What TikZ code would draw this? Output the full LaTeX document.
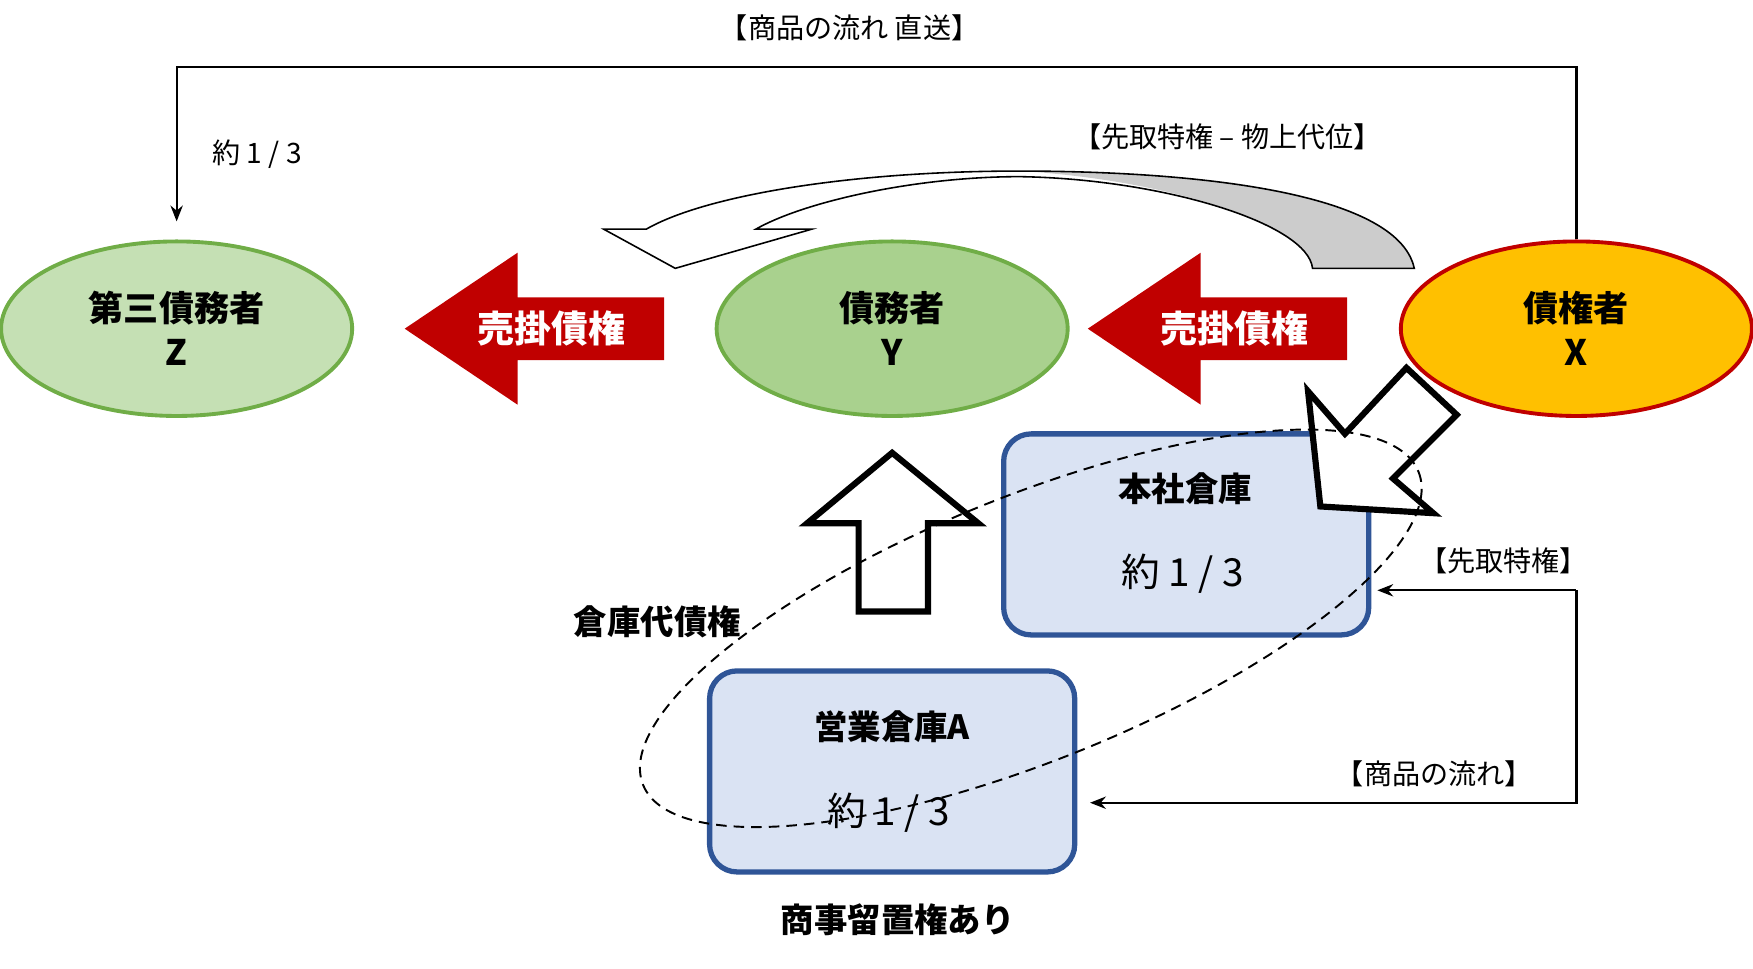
\documentclass[tikz,border=0pt]{standalone}
\usepackage{fontspec}
\setmainfont{Noto Sans CJK JP}
\usetikzlibrary{shapes.geometric,arrows.meta,positioning}
\definecolor{zfill}{HTML}{C5E0B4}
\definecolor{yfill}{HTML}{A9D18E}
\definecolor{pgreen}{HTML}{70AD47}
\definecolor{xfill}{HTML}{FFC000}
\definecolor{xred}{HTML}{C00000}
\definecolor{boxfill}{HTML}{DAE3F3}
\definecolor{boxline}{HTML}{2F5597}
\tikzset{
  party/.style={ellipse,minimum width=7.02cm,minimum height=3.49cm,line width=2.2pt,
    font=\fontsize{20}{25}\selectfont\bfseries,align=center},
  soko/.style={rectangle,rounded corners=0.55cm,minimum width=7.3cm,minimum height=4.02cm,
    fill=boxfill,draw=boxline,line width=3pt},
  lbl/.style={font=\fontsize{16}{19}\selectfont},
  blbl/.style={font=\fontsize{19}{22}\selectfont\bfseries},
  yaku/.style={font=\fontsize{22}{26}\selectfont},
  redtxt/.style={text=white,font=\fontsize{21}{25}\selectfont\bfseries},
  block/.style={draw=black,fill=white,line width=3.5pt,line join=miter},
  flow/.style={line width=1.3pt,-{Stealth[length=9pt,width=7pt]}}
}
\begin{document}
\begin{tikzpicture}[x=0.02236cm,y=-0.02236cm]
\useasboundingbox (0,0) rectangle (1568,866);

% les parties
\node[party,fill=zfill,draw=pgreen] (Z) at (158,294) {第三債務者\\Z};
\node[party,fill=yfill,draw=pgreen] (Y) at (798,294) {債務者\\Y};
\node[party,fill=xfill,draw=xred] (X) at (1410,294) {債権者\\X};

% les entrepôts
\node[soko] (honsha) at (1061,478) {};
\node[soko] (eigyo) at (798,690) {};
\node[blbl] at (1060,437) {本社倉庫};
\node[yaku] at (1058,513) {約 1 / 3};
\node[blbl] at (798,650) {営業倉庫A};
\node[yaku] at (795,727) {約 1 / 3};

% flèches rouges
\fill[xred] (362,294) -- (463,226) -- (463,266) -- (594,266) -- (594,322) -- (463,322) -- (463,362) -- cycle;
\node[redtxt] (urikake1) at (493,294) {売掛債権};
\fill[xred] (973,294) -- (1074,226) -- (1074,266) -- (1205,266) -- (1205,322) -- (1074,322) -- (1074,362) -- cycle;
\node[redtxt] (urikake2) at (1104,294) {売掛債権};

% flèche courbe
\fill[white] (1265,240) .. controls (1250,170) and (1060,153) .. (912,153)
  .. controls (760,153) and (630,175) .. (578,205) -- (540,205) -- (604,240) -- (726,205) -- (676,205)
  .. controls (720,180) and (820,158) .. (912,158) .. controls (1040,160) and (1170,200) .. (1174,240) -- cycle;
\fill[gray!40] (1265,240) .. controls (1250,170) and (1060,153) .. (912,153)
  .. controls (1040,160) and (1170,200) .. (1174,240) -- cycle;
\draw[line width=0.9pt] (1265,240) .. controls (1250,170) and (1060,153) .. (912,153)
  .. controls (760,153) and (630,175) .. (578,205) -- (540,205) -- (604,240) -- (726,205) -- (676,205)
  .. controls (720,180) and (820,158) .. (912,158) .. controls (1040,160) and (1170,200) .. (1174,240) -- cycle;
\node[lbl] (butsujo) at (1098,122) {【先取特権 – 物上代位】};

% flèches creuses
\draw[block] (798,405) -- (875,468) -- (830,468) -- (830,547) -- (768,547) -- (768,468) -- (722,468) -- cycle;
\draw[block] (1170,350) -- (1181,453) -- (1282,459) -- (1246,428) -- (1303,371) -- (1258,329) -- (1203,388) -- cycle;

% ellipse en pointillés
\draw[dash pattern=on 6pt off 4pt,line width=1.1pt] (922,562) ellipse[x radius=374,y radius=118,rotate=22];
\node[blbl] (sokodai) at (588,556) {倉庫代債権};
\node[blbl] (ryuchi) at (803,823) {商事留置権あり};

% flux de marchandises
\coordinate (xtop) at (1410,60);
\coordinate (ztop) at (158,60);
\coordinate (zend) at (158,198);
\draw[flow] (X.north) -- (xtop) -- (ztop) -- (zend);
\node[lbl] (chokuso) at (760,25) {【商品の流れ 直送】};
\node[lbl] (yaku) at (230,138) {約 1 / 3};

\coordinate (rmid) at (1410,528);
\coordinate (rbot) at (1410,718);
\coordinate (hend) at (1232,528);
\coordinate (eend) at (975,718);
\draw[flow] (rmid) -- (hend);
\draw[flow] (rmid) -- (rbot) -- (eend);
\node[lbl] (sakidori) at (1345,502) {【先取特権】};
\node[lbl] (nagare) at (1283,692) {【商品の流れ】};
\end{tikzpicture}
\end{document}
